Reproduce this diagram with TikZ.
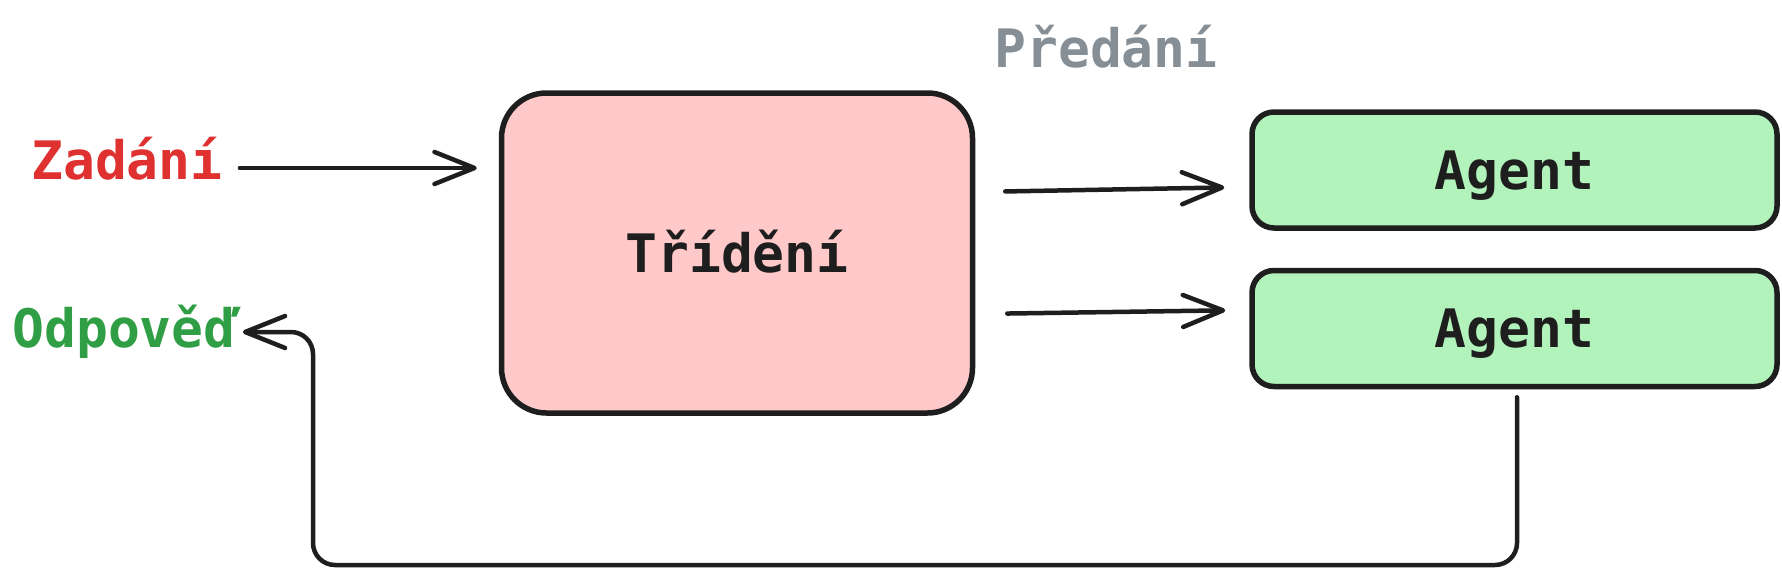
\documentclass[tikz,border=0pt]{standalone}
\usepackage{fontspec}
\setmainfont{DejaVu Sans Mono}
\usetikzlibrary{arrows.meta}
\definecolor{zred}{HTML}{E03131}
\definecolor{zgreen}{HTML}{2F9E44}
\definecolor{zgray}{HTML}{868E96}
\definecolor{pinkfill}{HTML}{FFC9C9}
\definecolor{greenfill}{HTML}{B2F2BB}
\definecolor{ink}{HTML}{1E1E1E}
\tikzset{
  lbl/.style={inner sep=0pt, font=\fontsize{53}{60}\selectfont\bfseries, text height=38pt, text depth=0pt},
  bigbox/.style={draw=ink, line width=5.5pt, fill=pinkfill, rounded corners=45pt, minimum width=471pt, minimum height=320pt, lbl, text=ink},
  agentbox/.style={draw=ink, line width=5.5pt, fill=greenfill, rounded corners=22pt, minimum width=525pt, minimum height=116pt, lbl, text=ink},
  arr/.style={draw=ink, line width=4.5pt, line cap=round, line join=round, -{Straight Barb[length=40pt,width=32pt,round]}}
}
\begin{document}
\begin{tikzpicture}[x=1pt,y=-1pt]
\useasboundingbox (0,0) rectangle (1782,576);
% labels
\node[lbl, anchor=base, text=zred] (zad) at (127,179) {Zadání};
\node[lbl, anchor=base, text=zgreen] (odp) at (124,347) {Odpověď};
\node[lbl, anchor=base, text=zgray] (pred) at (1106,67) {Předání};
% boxes
\node[bigbox] (tri) at (737,253) {Třídění};
\node[agentbox] (a1) at (1514.5,170) {Agent};
\node[agentbox] (a2) at (1514.5,328.5) {Agent};
% connectors
\coordinate (zs) at ([xshift=17pt,yshift=-8pt]zad.east);
\draw[arr, shorten >=22pt] (zs) -- (zs -| tri.west);
\draw[arr, shorten <=30pt, shorten >=25pt] ([yshift=-22pt]tri.east |- a1.west) -- ([yshift=-17pt]a1.west);
\draw[arr, shorten <=32pt, shorten >=24pt] ([yshift=14.5pt]tri.east |- a2.west) -- ([yshift=18.5pt]a2.west);
\coordinate (fbr) at (1517,565);
\coordinate (fbl) at (313,565);
\draw[arr, rounded corners=22pt, shorten <=8pt, shorten >=7pt]
  ([xshift=2.5pt]a2.south) -- ([xshift=2.5pt]a2.south |- fbr) -- (fbl) -- ([yshift=-4pt]fbl |- odp.east) -- ([yshift=-4pt]odp.east);
\end{tikzpicture}
\end{document}
